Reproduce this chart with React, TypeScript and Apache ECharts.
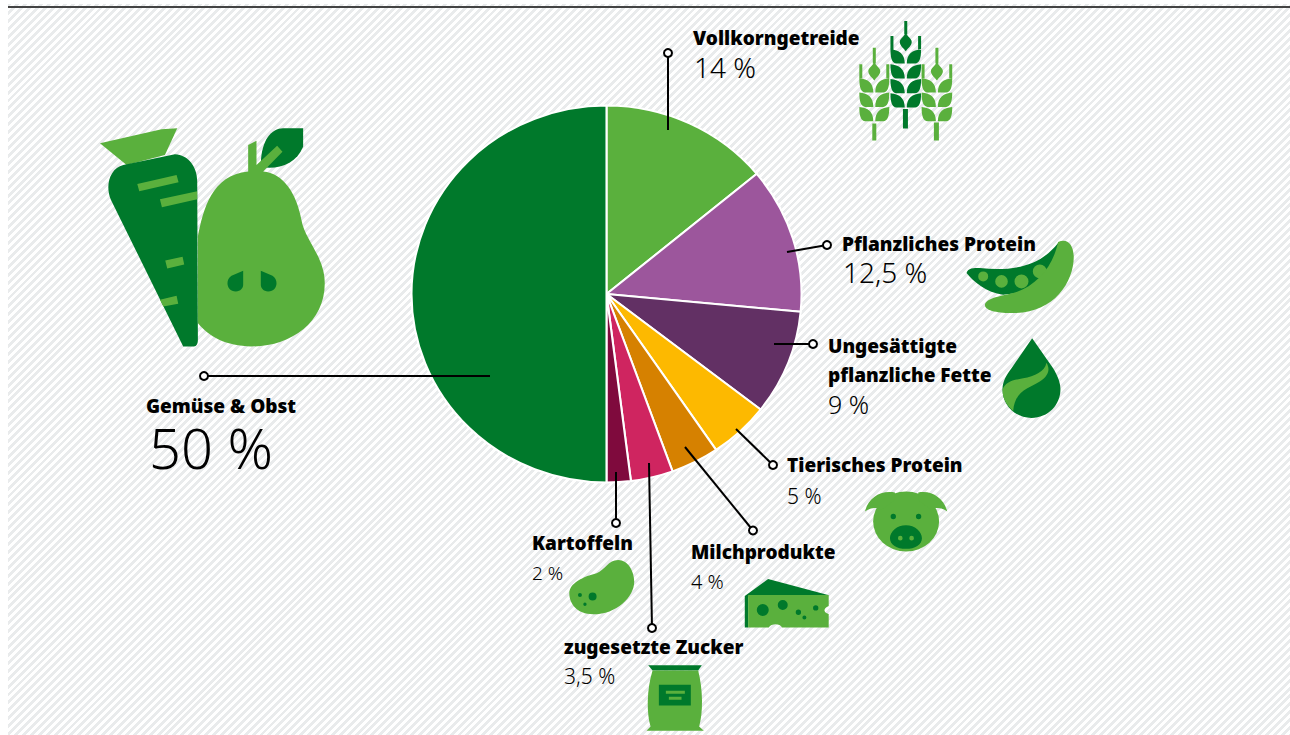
import React, { useEffect, useRef } from "react";
import * as echarts from "echarts";

const categories = ["Vollkorngetreide", "Pflanzliches Protein", "Ungesättigte pflanzliche Fette", "Tierisches Protein", "Milchprodukte", "zugesetzte Zucker", "Kartoffeln", "Gemüse & Obst"];
const values = [14, 12.5, 9, 5, 4, 3.5, 2, 50];
const valueLabels = ["14 %", "12,5 %", "9 %", "5 %", "4 %", "3,5 %", "2 %", "50 %"];
const sliceColors = ["#5AB03D", "#9C569C", "#623064", "#FDB900", "#D68100", "#CF2560", "#7F0A3D", "#00792B"];

const BOLD = "'Noto Sans', sans-serif";
const THIN = "'Noto Sans', sans-serif";
const LIGHT = "#5AB03D";
const DARK = "#00792B";

// name lines [x, y], value [x, y, size], leader line from dot to slice
const labelLayout = [
  { name: [[693, 38]], val: [694, 67, 28], dot: [668, 53], end: [668, 130] },
  { name: [[842, 244]], val: [843, 272, 28], dot: [827, 245], end: [787, 252] },
  { name: [[828, 346], [828, 375]], val: [828, 404, 25], dot: [813, 344], end: [774, 344] },
  { name: [[787, 465]], val: [787, 496, 21], dot: [773, 465], end: [736, 429] },
  { name: [[691, 552]], val: [691, 581, 20], dot: [753, 530.5], end: [685, 447] },
  { name: [[564, 647]], val: [564, 676, 21], dot: [652, 628], end: [649, 463] },
  { name: [[532, 543]], val: [532, 573, 19], dot: [616, 523], end: [616, 472] },
  { name: [[146, 406]], val: [149, 447, 56], dot: [204, 376], end: [490, 376] },
];

const circ = (cx: number, cy: number, r: number) =>
  `M${cx - r} ${cy}a${r} ${r} 0 1 0 ${2 * r} 0a${r} ${r} 0 1 0 ${-2 * r} 0Z`;
const ell = (cx: number, cy: number, rx: number, ry: number) =>
  `M${cx - rx} ${cy}a${rx} ${ry} 0 1 0 ${2 * rx} 0a${rx} ${ry} 0 1 0 ${-2 * rx} 0Z`;
const rect = (a: number, b: number, c: number, d: number) => `M${a} ${b}L${c} ${b}L${c} ${d}L${a} ${d}Z`;

const grainL = (x0: number, x1: number, y: number) =>
  `M${x0} ${y}C${x0 + 26} ${y + 2} ${x1} ${y + 14} ${x1} ${y + 43}L${x0 + 18} ${y + 43}C${x0 + 6} ${y + 42} ${x0} ${y + 30} ${x0} ${y}Z`;
const grainR = (x0: number, x1: number, y: number) =>
  `M${x1} ${y}C${x1 - 26} ${y + 2} ${x0} ${y + 14} ${x0} ${y + 43}L${x1 - 18} ${y + 43}C${x1 - 6} ${y + 42} ${x1} ${y + 30} ${x1} ${y}Z`;
const ear = (c: number, rows: number[], top: number, diaY: number, awnY: number, awnH: number, half: number, gap: number) =>
  rows.map((y) => grainL(c - half, c - gap, y) + grainR(c + gap, c + half, y)).join("") +
  rect(c - 4.5, top, c + 4.5, diaY - 22) +
  `M${c} ${diaY - 27}C${c + 6} ${diaY - 14} ${c + 18} ${diaY - 10} ${c + 18} ${diaY + 1}C${c + 18} ${diaY + 12} ${c + 6} ${diaY + 20} ${c} ${diaY + 29}C${c - 6} ${diaY + 20} ${c - 18} ${diaY + 12} ${c - 18} ${diaY + 1}C${c - 18} ${diaY - 10} ${c - 6} ${diaY - 14} ${c} ${diaY - 27}Z` +
  rect(c - half, awnY, c - half + 9, awnY + awnH) +
  rect(c + half - 9, awnY, c + half, awnY + awnH);

// icons are traced at 3x, relative to an origin on the page
const icons: { o: number[]; parts: [string, string][] }[] = [
  {
    o: [80, 110],
    parts: [
      ["M60 100L245 58L292 55L255 135L140 165Z", LIGHT],
      ["M285 133C325 135 352 170 352 215L354 690C354 702 350 710 342 710L310 710L92 268C75 225 90 175 130 165Z", DARK],
      ["M172 222L290 195L296 217L178 244ZM240 268L352 244L352 268L246 292ZM256 452L308 441L313 464L262 476ZM240 570L290 558L295 582L250 590Z", LIGHT],
      ["M543 160C545 90 575 55 610 55L670 55L670 110C650 160 600 178 550 172Z", DARK],
      ["M354 380C370 300 395 195 505 185L505 105L530 92L530 165L592 107L608 125L550 185C610 190 650 250 665 330C675 390 735 440 735 520C735 640 630 710 515 710C440 710 385 680 354 640Z", LIGHT],
      ["M490 483L455 498C435 510 440 545 468 545C482 545 490 535 490 525ZM543 483L578 498C598 510 593 545 565 545C551 545 543 535 543 525Z", DARK],
    ],
  },
  {
    o: [840, 10],
    parts: [
      [ear(103, [205, 248, 291], 113, 183, 163, 42, 45, 3) + rect(97, 341, 109, 392), LIGHT],
      [ear(291, [205, 248, 291], 113, 183, 163, 42, 46, 3) + rect(282, 338, 297, 392), LIGHT],
      [ear(197.5, [118, 163, 207, 250], 33, 95, 78, 42, 46, 3) + rect(189, 297, 204, 356), DARK],
    ],
  },
  {
    o: [840, 10],
    parts: [
      ["M380 790C385 775 400 775 420 775C520 785 600 770 655 700L690 750L620 840L490 855C440 850 400 815 380 790Z", DARK],
      [circ(430, 800, 15) + circ(485, 815, 19) + circ(545, 815, 21) + circ(600, 785, 21), LIGHT],
      ["M655 697C680 685 700 700 702 740C702 820 640 910 520 910C480 910 435 905 435 885C440 865 480 860 520 850C590 830 640 770 655 697Z", LIGHT],
    ],
  },
  {
    o: [850, 330],
    parts: [
      ["M547 25L610 115C625 140 632 160 632 178C632 225 595 264 545 264C495 264 458 225 458 178C458 155 470 135 485 115Z", DARK],
      ["M590 98C600 115 600 135 570 155C540 175 495 180 490 243C470 225 458 205 458 180C465 155 490 150 520 145C555 138 585 125 590 98Z", LIGHT],
      [ell(168.5, 575, 99, 90), LIGHT],
      ["M135 488C90 480 55 505 45 545C60 535 75 530 95 540L135 510Z", LIGHT],
      ["M205 488C245 480 282 505 292 545C278 535 262 530 242 540L205 510Z", LIGHT],
      [circ(130, 560, 8) + circ(206, 560, 8) + "M168 586C195 586 216 605 216 625C216 645 195 657 168 657C141 657 120 645 120 625C120 605 141 586 168 586Z", DARK],
      [circ(151, 625, 7) + circ(185, 625, 7), LIGHT],
    ],
  },
  {
    o: [530, 540],
    parts: [
      ["M265 60C295 60 313 95 313 125C313 170 260 223 190 223C140 223 118 190 118 160C118 130 160 110 200 100C225 90 235 60 265 60Z", LIGHT],
      [circ(188, 170, 12) + circ(150, 165, 6) + circ(165, 193, 5), DARK],
      ["M645 168L715 117L895 165L655 170L655 263L645 263Z", DARK],
      ["M655 165L897 165L897 198C880 205 880 218 897 222L897 263L757 263C750 250 725 250 717 263L655 263Z", LIGHT],
      [circ(699, 210, 18) + circ(759, 195, 15) + circ(806, 217, 8) + circ(858, 204, 8) + circ(824, 233, 6), DARK],
      ["M355 376L516 376L505 392L368 392Z", DARK],
      ["M368 392L505 392C520 450 520 520 508 560L522 573L350 573L362 560C350 520 350 450 368 392Z", LIGHT],
      [rect(387, 435, 483, 497), DARK],
      [rect(408, 453, 465, 462) + rect(417, 471, 455, 480), LIGHT],
    ],
  },
];

const iconGraphics: any[] = [];
icons.forEach((icon, i) => {
  icon.parts.forEach(([d, fill], j) => {
    const name = `icon_${i}_${j}`;
    echarts.graphic.registerShape(name, echarts.graphic.extendPath(d, {}));
    iconGraphics.push({
      type: name,
      x: icon.o[0],
      y: icon.o[1],
      scaleX: 1 / 3,
      scaleY: 1 / 3,
      silent: true,
      style: { fill },
    });
  });
});

const nameLines = (s: string) => (s.startsWith("Ungesättigte") ? ["Ungesättigte", "pflanzliche Fette"] : [s]);

const text = (x: number, y: number, t: string, font: string, size: number, weight: any) => ({
  type: "text",
  x,
  y,
  silent: true,
  style: { text: t, fill: "#000", font: `${weight} ${size}px ${font}`, textAlign: "left", textVerticalAlign: "middle" },
});

const labelGraphics: any[] = [];
categories.forEach((c, i) => {
  const l = labelLayout[i];
  labelGraphics.push({
    type: "line",
    silent: true,
    shape: { x1: l.dot[0], y1: l.dot[1], x2: l.end[0], y2: l.end[1] },
    style: { stroke: "#000", lineWidth: 2 },
  });
  labelGraphics.push({
    type: "circle",
    silent: true,
    shape: { cx: l.dot[0], cy: l.dot[1], r: 4 },
    style: { fill: "#fff", stroke: "#000", lineWidth: 2 },
  });
  nameLines(c).forEach((t, k) => labelGraphics.push(text(l.name[k][0], l.name[k][1], t, BOLD, 19, 900)));
  labelGraphics.push(text(l.val[0], l.val[1], valueLabels[i], THIN, l.val[2], 300));
});

export default function App() {
  const pieRef = useRef<HTMLDivElement>(null);
  const topRef = useRef<HTMLDivElement>(null);
  useEffect(() => {
    const pie = echarts.init(pieRef.current!, null, { renderer: "svg" });
    pie.setOption({
      animation: false,
      backgroundColor: "transparent",
      series: [
        {
          type: "pie",
          center: [606.5, 294],
          radius: [0, 188.5],
          startAngle: 90,
          clockwise: true,
          silent: true,
          label: { show: false },
          labelLine: { show: false },
          itemStyle: { borderColor: "#fff", borderWidth: 2 },
          data: categories.map((name, i) => ({ name, value: values[i], itemStyle: { color: sliceColors[i] } })),
        },
      ],
    });
    const top = echarts.init(topRef.current!, null, { renderer: "svg" });
    top.setOption({
      animation: false,
      backgroundColor: "transparent",
      graphic: { elements: [...iconGraphics, ...labelGraphics] },
    });
    return () => {
      pie.dispose();
      top.dispose();
    };
  }, []);
  const full: React.CSSProperties = { position: "absolute", left: 0, top: 0, width: 1290, height: 735 };
  return (
    <div style={{ position: "fixed", left: 0, top: 0, width: 1290, height: 735, overflow: "hidden", background: "#fff" }}>
      <div
        style={{
          position: "absolute",
          left: 8,
          top: 4,
          width: 1282,
          height: 731,
          background: "repeating-linear-gradient(135deg, #E9EBEC 0 2.8px, #fff 2.8px 5.6px)",
        }}
      />
      <div style={{ position: "absolute", left: 8, top: 6, width: 1282, height: 2, background: "#444" }} />
      <div ref={pieRef} style={{ ...full, transform: "scaleX(1.0346)", transformOrigin: "606.5px 294px" }} />
      <div ref={topRef} style={full} />
    </div>
  );
}
